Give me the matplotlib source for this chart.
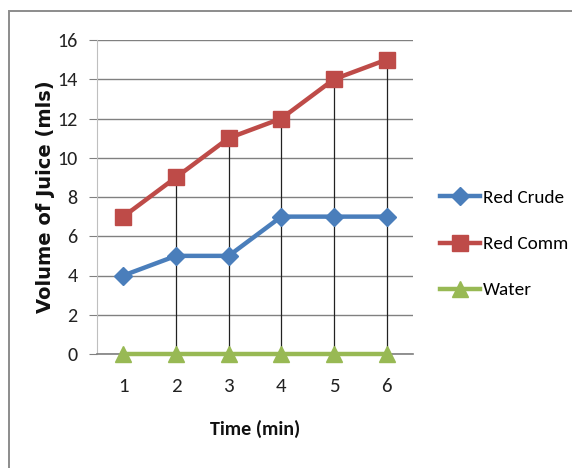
import matplotlib
matplotlib.use("Agg")
import matplotlib.pyplot as plt
from matplotlib.patches import Rectangle

time_min = [1, 2, 3, 4, 5, 6]
red_crude = [4, 5, 5, 7, 7, 7]
red_comm = [7, 9, 11, 12, 14, 15]
water = [0, 0, 0, 0, 0, 0]
y_ticks = [0, 2, 4, 6, 8, 10, 12, 14, 16]

plt.rcParams['font.family'] = ['Carlito', 'DejaVu Sans']

W, H = 572, 468
fig = plt.figure(figsize=(W / 100, H / 100), dpi=100)
fig.patch.set_facecolor('white')

# chart frame
fig.add_artist(Rectangle((9 / W, -0.1), 1.2, (H - 11) / H + 0.1, transform=fig.transFigure,
                         fill=False, edgecolor='#8c8c8c', linewidth=1.4))

left, right, top, bottom = 97, 413, 40, 354
ax = fig.add_axes([left / W, 1 - bottom / H, (right - left) / W, (bottom - top) / H])
ax.set_xlim(0.5, 6.5)
ax.set_ylim(0, 16)

ax.set_yticks(y_ticks)
ax.set_yticklabels([str(v) for v in y_ticks])
ax.set_xticks(time_min)
ax.set_xticklabels([str(v) for v in time_min])
ax.yaxis.grid(True, color='#808080', linewidth=1.0)
ax.set_axisbelow(True)

for s in ['top', 'right']:
    ax.spines[s].set_visible(False)
ax.spines['left'].set_color('#bfbfbf')
ax.spines['bottom'].set_color('#7f7f7f')
ax.spines['bottom'].set_linewidth(1.2)
ax.tick_params(axis='y', length=6, color='#808080', labelsize=14.5, pad=8, labelcolor='#222222')
ax.tick_params(axis='x', length=0, labelsize=15, pad=17, labelcolor='#222222')

# drop lines from the highest series
for x, y in zip(time_min[1:], red_comm[1:]):
    ax.vlines(x, 0, y, color='#222222', linewidth=0.9, zorder=2)

ax.plot(time_min, red_crude, color='#4a7ebb', linewidth=3.2, marker='D', markersize=9,
        label='Red Crude', zorder=3, clip_on=False)
ax.plot(time_min, red_comm, color='#be4b48', linewidth=3.2, marker='s', markersize=12,
        label='Red Comm', zorder=3, clip_on=False)
ax.plot(time_min, water, color='#98b954', linewidth=3.2, marker='^', markersize=12,
        label='Water', zorder=3, clip_on=False)

ax.set_xlabel('Time (min)', fontsize=14.5, fontweight='bold', color='#111111', va='center')
ax.xaxis.set_label_coords(0.5, (bottom - 429) / (bottom - top))
ax.set_ylabel('Volume of Juice (mls)', fontsize=14, fontweight='bold', color='#111111',
              family=['DejaVu Sans'], va='center')
ax.yaxis.set_label_coords((45 - left) / (right - left), 0.5)

leg = ax.legend(loc='center left', bbox_to_anchor=(440 / W, 1 - 244 / H),
                bbox_transform=fig.transFigure, frameon=False, fontsize=13.8,
                handlelength=2.1, handletextpad=0.12, labelspacing=1.55, borderpad=0,
                borderaxespad=0)

fig.savefig('out.png', dpi=100)
